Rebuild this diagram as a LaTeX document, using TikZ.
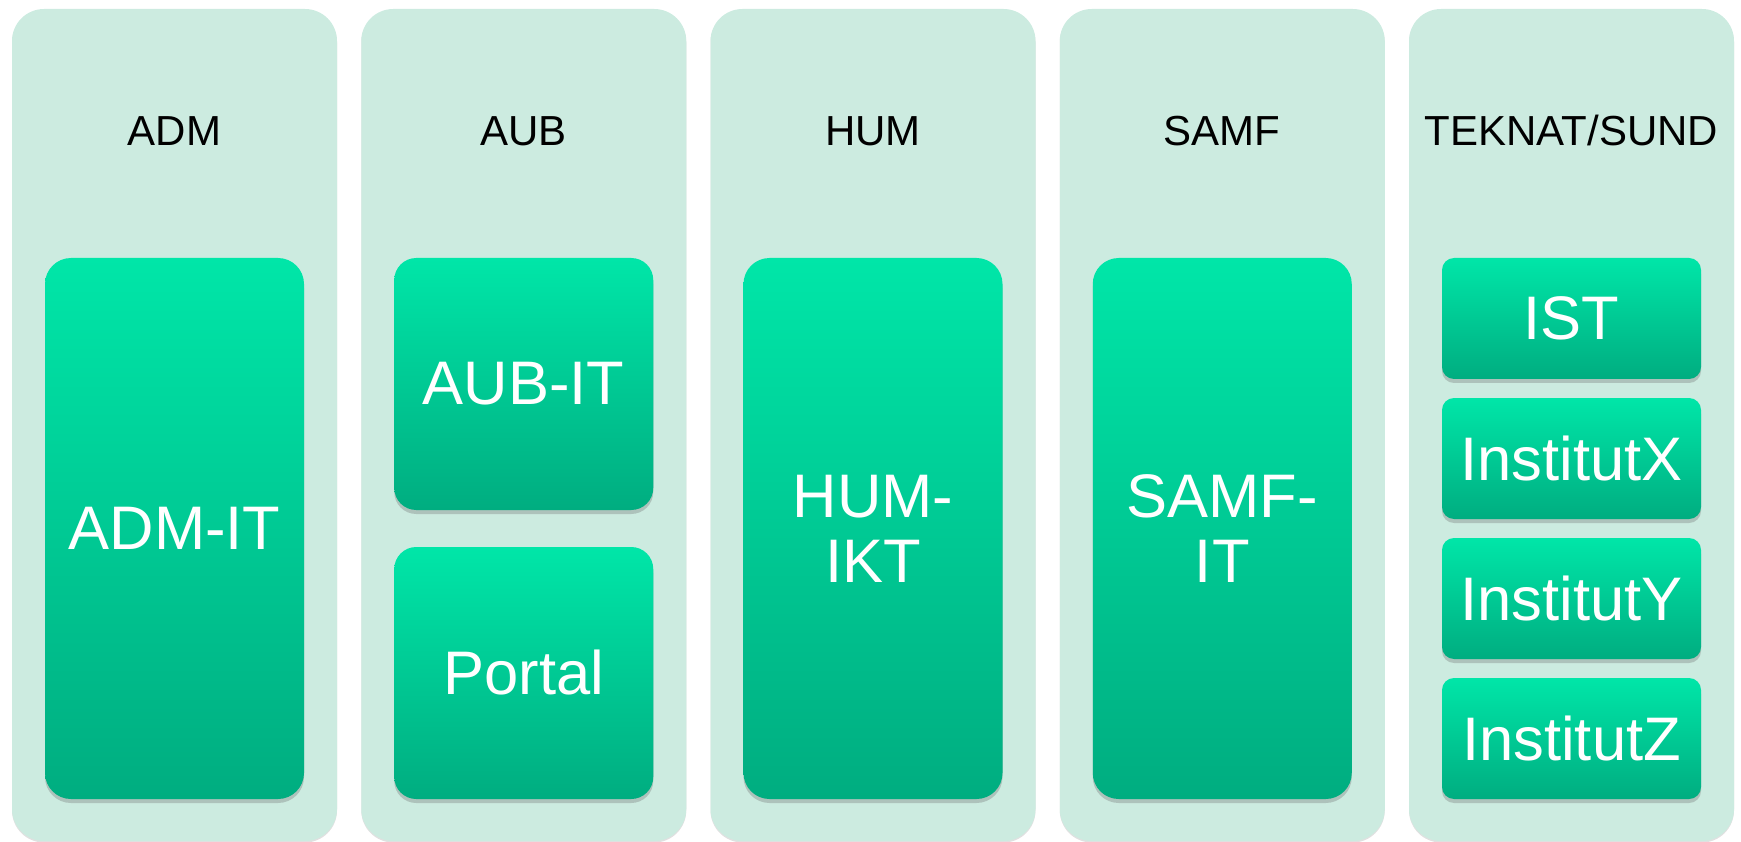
\documentclass[tikz,border=0pt]{standalone}
\usepackage{fontspec}
\setmainfont{Liberation Sans}
\usetikzlibrary{shadows,positioning}
\definecolor{colfill}{HTML}{CCEBE0}
\definecolor{unittop}{HTML}{00E6A8}
\definecolor{unitbot}{HTML}{00AD80}

\begin{document}
\begin{tikzpicture}[x=1pt,y=-1pt,
  column/.style={
    fill=colfill,
    rounded corners=32pt,
    minimum width=325pt,
    minimum height=832pt,
    inner sep=0,
    drop shadow={shadow xshift=0pt,shadow yshift=-1.5pt,opacity=.3,fill=black!40},
  },
  head/.style={
    anchor=base,
    text=black,
    font=\fontsize{42}{48}\selectfont,
  },
  unit/.style={
    top color=unittop,
    bottom color=unitbot,
    minimum width=259pt,
    inner sep=0,
    align=center,
    text=white,
    font=\fontsize{61.5}{65}\selectfont,
    drop shadow={shadow xshift=0pt,shadow yshift=-4pt,opacity=.3,fill=black!60},
  },
  tall/.style={unit,rounded corners=26pt,minimum height=541pt},
  half/.style={unit,rounded corners=22pt,minimum height=252pt},
  small/.style={unit,rounded corners=12pt,minimum height=121pt},
  ]
  \useasboundingbox (0,0) rectangle (1741,842);

  % columns and their headings
  \foreach[count=\i from 0] \name in {ADM,AUB,HUM,SAMF,{TEKNAT/SUND}}
  {
    \node[column] (col\i) at ({174.5+349.25*\i},425) {};
    \node[head] (head\i) at ({174.5+349.25*\i},146) {\name};
  }

  % IT units
  \node[tall] (admit) at (174.5,528.5) {ADM-IT};
  \node[half] (aubit) at (523.75,384) {AUB-IT};
  \node[half] (portal) at (523.75,673) {Portal};
  \node[tall] (humikt) at (873,528.5) {HUM-\\IKT};
  \node[tall] (samfit) at (1222.25,528.5) {SAMF-\\IT};

  \foreach[count=\j from 0] \unit in {IST,InstitutX,InstitutY,InstitutZ}
  {
    \node[small] (inst\j) at (1571.5,{318.5+140*\j}) {\unit};
  }
\end{tikzpicture}
\end{document}
